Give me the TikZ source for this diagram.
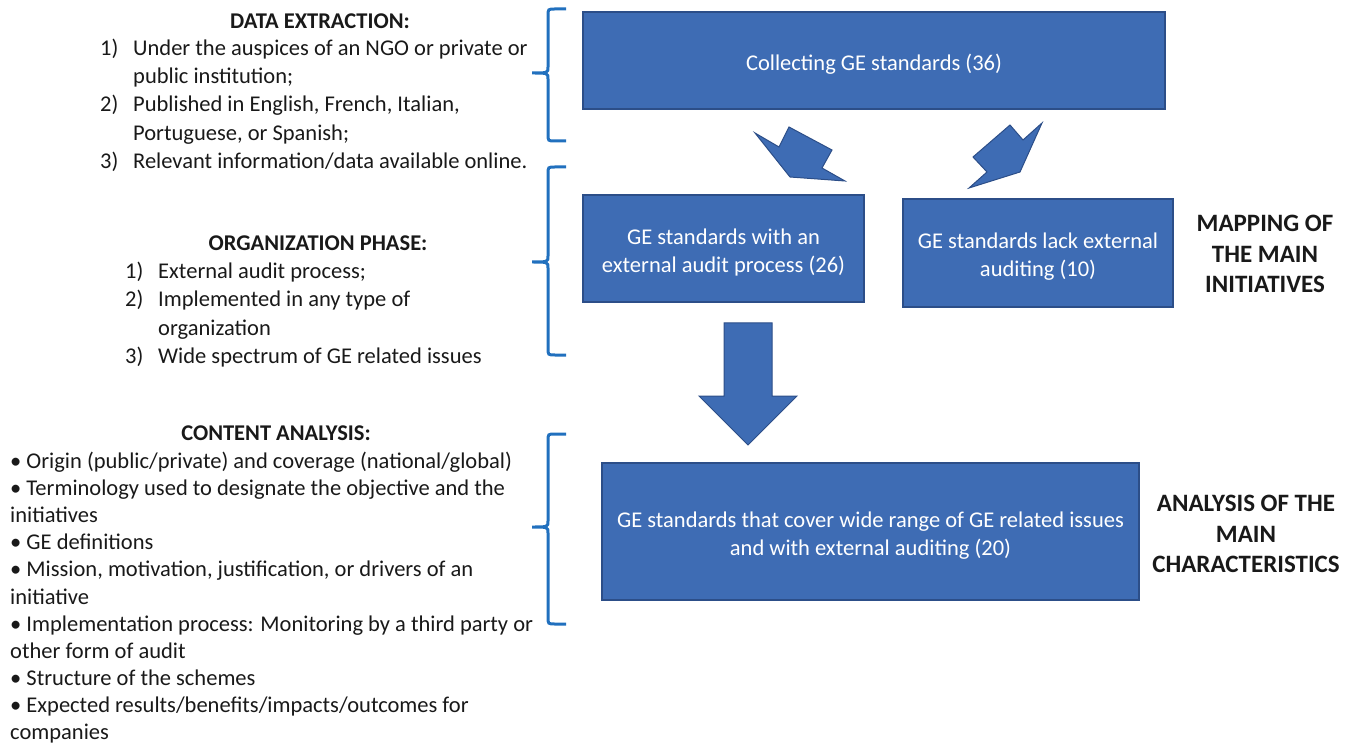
\documentclass[tikz,border=0pt]{standalone}
\usepackage{fontspec}
\setmainfont{Carlito}
\definecolor{boxfill}{RGB}{62,108,180}
\definecolor{boxline}{RGB}{44,78,136}
\definecolor{bracecol}{RGB}{33,112,190}
\definecolor{txt}{RGB}{25,25,25}
\begin{document}
\begin{tikzpicture}[x=1pt,y=-1pt,
  gebox/.style={draw=boxline, line width=1.2pt, fill=boxfill, inner sep=0pt},
  boxtext/.style={text=white, align=center, font=\fontsize{22.5}{28}\selectfont, inner sep=0pt},
  blockarrow/.style={draw=boxline, line width=1pt, fill=boxfill, line join=miter},
  bracepath/.style={draw=bracecol, line width=3pt, line cap=butt},
  ln/.style={anchor=west, text=txt, font=\fontsize{22.5}{28}\selectfont, inner sep=0pt,
    text height=18pt, text depth=2pt},
  hd/.style={anchor=center, text=txt, font=\fontsize{22.5}{28}\selectfont\bfseries, inner sep=0pt,
    text height=18pt, text depth=2pt},
  sidelabel/.style={anchor=center, text=txt, font=\fontsize{25}{30.5}\selectfont\bfseries,
    inner sep=0pt, align=center}
]
\useasboundingbox (0,0) rectangle (1352,743);

% ---------- boxes ----------
\node[gebox, minimum width=582pt, minimum height=97pt] (collect) at (874,60.5) {};
\node[boxtext] (collect-t) at ([yshift=-3.5pt]collect.center) {Collecting GE standards (36)};
\node[gebox, minimum width=281pt, minimum height=107pt] (withaudit) at (723.5,248.5) {};
\node[boxtext] (withaudit-t) at ([yshift=-4.5pt]withaudit.center) {GE standards with an\\external audit process (26)};
\node[gebox, minimum width=270pt, minimum height=108pt] (lackaudit) at (1038,253) {};
\node[boxtext] (lackaudit-t) at ([yshift=-4pt]lackaudit.center) {GE standards lack external\\auditing (10)};
\node[gebox, minimum width=537pt, minimum height=137pt] (cover) at (870.5,531.5) {};
\node[boxtext] (cover-t) at ([yshift=-4pt]cover.center) {GE standards that cover wide range of GE related issues\\and with external auditing (20)};

% ---------- block arrows ----------
\draw[blockarrow] (755,133) -- (779,147) -- (789,127) -- (832,150) -- (822,168) -- (845,181) -- (790,177) -- cycle;
\draw[blockarrow] (1042,123) -- (1023,140) -- (1010,125) -- (973,157) -- (987,172) -- (969,188) -- (1020,172) -- cycle;
\draw[blockarrow] (724,323) -- (772,323) -- (772,396) -- (797,396) -- (748,445) -- (699,396) -- (724,396) -- cycle;

% ---------- braces ----------
\draw[bracepath] (566,9) -- (555,9) .. controls (548,9) .. (548,16) -- (548,67) .. controls (548,73) .. (532,73)
  .. controls (548,73) .. (548,79) -- (548,134) .. controls (548,141) .. (555,141) -- (566,141);
\draw[bracepath] (566,167) -- (555,167) .. controls (548,167) .. (548,174) -- (548,256) .. controls (548,262) .. (532,262)
  .. controls (548,262) .. (548,268) -- (548,348) .. controls (548,355) .. (555,355) -- (566,355);
\draw[bracepath] (566,434) -- (555,434) .. controls (548,434) .. (548,441) -- (548,521) .. controls (548,527) .. (532,527)
  .. controls (548,527) .. (548,533) -- (548,617) .. controls (548,624) .. (555,624) -- (566,624);

% ---------- data extraction ----------
\node[hd] (dehead) at (320,21) {DATA EXTRACTION:};
\node[ln] (den1) at (100,48) {1)};
\node[ln] (det1a) at (133,48) {Under the auspices of an NGO or private or};
\node[ln] (det1b) at (133,76) {public institution;};
\node[ln] (den2) at (100,104) {2)};
\node[ln] (det2a) at (133,104) {Published in English, French, Italian,};
\node[ln] (det2b) at (133,133) {Portuguese, or Spanish;};
\node[ln] (den3) at (100,161) {3)};
\node[ln] (det3) at (133,161) {Relevant information/data available online.};

% ---------- organization phase ----------
\node[hd] (orghead) at (318,243) {ORGANIZATION PHASE:};
\node[ln] (orn1) at (125,271) {1)};
\node[ln] (ort1) at (158,271) {External audit process;};
\node[ln] (orn2) at (125,299) {2)};
\node[ln] (ort2a) at (158,299) {Implemented in any type of};
\node[ln] (ort2b) at (158,327) {organization};
\node[ln] (orn3) at (125,355) {3)};
\node[ln] (ort3) at (158,355) {Wide spectrum of GE related issues};

% ---------- content analysis ----------
\node[hd] (cahead) at (276,432) {CONTENT ANALYSIS:};
\node[ln] (ca1) at (10,460) {• Origin (public/private) and coverage (national/global)};
\node[ln] (ca2a) at (10,487) {• Terminology used to designate the objective and the};
\node[ln] (ca2b) at (10,514) {initiatives};
\node[ln] (ca3) at (10,541) {• GE definitions};
\node[ln] (ca4a) at (10,568) {• Mission, motivation, justification, or drivers of an};
\node[ln] (ca4b) at (10,596) {initiative};
\node[ln] (ca5a) at (10,623) {• Implementation process: Monitoring by a third party or};
\node[ln] (ca5b) at (10,650) {other form of audit};
\node[ln] (ca6) at (10,677) {• Structure of the schemes};
\node[ln] (ca7a) at (10,704) {• Expected results/benefits/impacts/outcomes for};
\node[ln] (ca7b) at (10,731) {companies};

% ---------- side labels ----------
\node[sidelabel] (mapping) at (1265,254) {MAPPING OF\\THE MAIN\\INITIATIVES};
\node[sidelabel] (analysis) at (1246,534) {ANALYSIS OF THE\\MAIN\\CHARACTERISTICS};
\end{tikzpicture}
\end{document}
